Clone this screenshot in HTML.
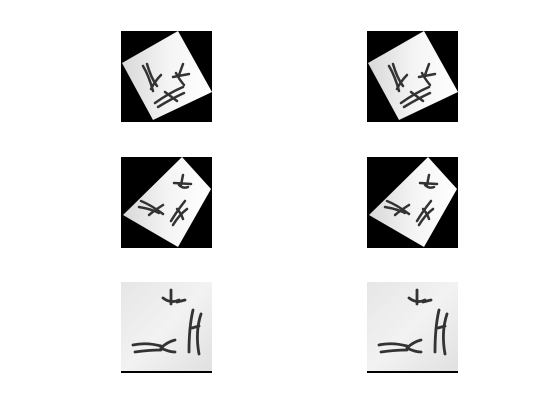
<!DOCTYPE html>
<html><head><meta charset="utf-8"><style>
html,body{margin:0;padding:0;background:#fff;width:560px;height:420px;overflow:hidden}
svg{display:block}
</style></head><body>
<svg width="560" height="420" viewBox="0 0 560 420">
<defs>
<linearGradient id="g1" x1="0" y1="0" x2="1" y2="0">
<stop offset="0" stop-color="#d8d8d8"/><stop offset="0.5" stop-color="#f4f4f4"/><stop offset="1" stop-color="#ffffff"/>
</linearGradient>
<linearGradient id="g3" x1="0" y1="0" x2="1" y2="1">
<stop offset="0" stop-color="#e6e6e6"/><stop offset="0.5" stop-color="#f2f2f2"/><stop offset="1" stop-color="#e0e0e0"/>
</linearGradient>
<g id="p1">
<rect x="0" y="0" width="91" height="91" fill="#000"/>
<polygon points="57,0 91,61 32,89 1,32" fill="url(#g1)"/>
<g stroke="#333" stroke-width="2.5" fill="none" stroke-linecap="round">
<path d="M22,35 Q28,45 32,60"/><path d="M26,33 Q30,47 36,55"/>
<path d="M40,44 Q34,50 30,58"/>
<path d="M55,42 Q58,48 63,54"/><path d="M52,46 L68,43"/><path d="M62,33 L58,44"/>
<path d="M34,72 Q48,62 62,56"/><path d="M37,76 Q50,68 63,62"/><path d="M44,61 Q52,67 56,70"/>
</g>
</g>
<g id="p2">
<rect x="0" y="0" width="91" height="91" fill="#000"/>
<polygon points="61,0 90,32 57,90 2,58" fill="url(#g1)"/>
<g stroke="#333" stroke-width="2.5" fill="none" stroke-linecap="round">
<path d="M62,18 L60,28"/><path d="M53,26 L70,27"/><path d="M58,28 Q62,32 67,30"/>
<path d="M20,44 Q30,48 42,57"/><path d="M18,50 Q30,52 38,56"/><path d="M28,58 Q34,53 42,48"/>
<path d="M50,64 Q56,54 64,44"/><path d="M52,68 Q58,58 66,52"/><path d="M56,52 Q60,56 62,62"/>
</g>
</g>
<g id="p3">
<rect x="0" y="0" width="91" height="91" fill="url(#g3)"/>
<rect x="0" y="89" width="91" height="2" fill="#000"/>
<g stroke="#333" stroke-width="2.8" fill="none" stroke-linecap="round">
<path d="M50,8 L50,22"/><path d="M42,16 Q50,22 58,18"/><path d="M56,20 L64,18"/>
<path d="M12,63 Q25,60 40,64"/><path d="M14,70 Q28,68 40,68"/><path d="M40,66 Q46,60 54,58"/><path d="M40,66 Q48,70 54,70"/>
<path d="M72,28 Q68,45 68,70"/><path d="M80,32 Q74,50 78,72"/><path d="M71,46 L78,44"/>
</g>
</g>
</defs>
<use href="#p1" x="121" y="31"/>
<use href="#p1" x="367" y="31"/>
<use href="#p2" x="121" y="157"/>
<use href="#p2" x="367" y="157"/>
<use href="#p3" x="121" y="282"/>
<use href="#p3" x="367" y="282"/>
</svg>
</body></html>
